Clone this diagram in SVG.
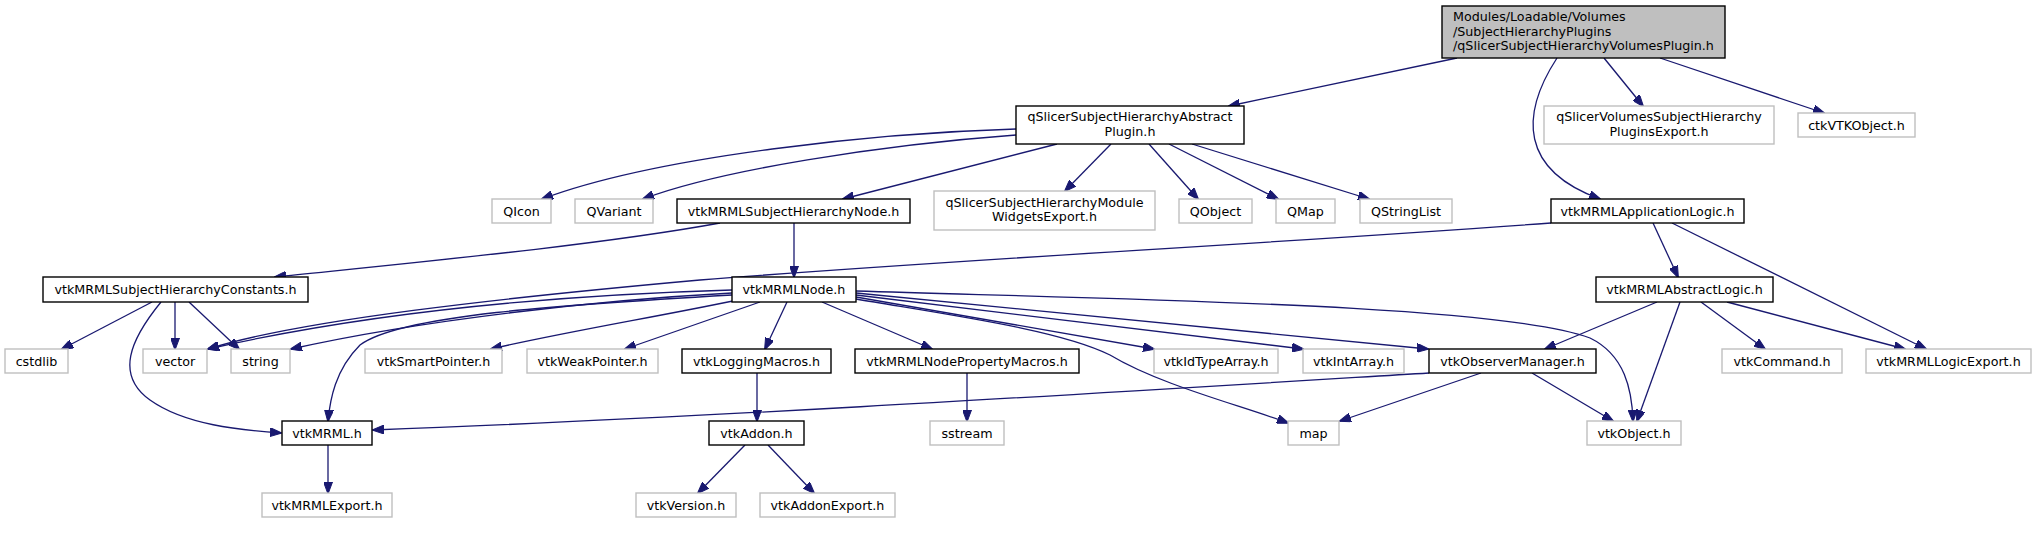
<svg xmlns="http://www.w3.org/2000/svg" width="2036" height="544" viewBox="0 0 2036 544">
<style>
rect.doc{fill:#ffffff;stroke:#000000;stroke-width:1.4}
rect.und{fill:#ffffff;stroke:#bfbfbf;stroke-width:1.4}
rect.main{fill:#bfbfbf;stroke:#000000;stroke-width:1.4}
text{font-family:"DejaVu Sans","Liberation Sans",sans-serif;font-size:12.7px;fill:#000000;text-anchor:middle}
text.left{text-anchor:start}
#edges path{fill:none;stroke:#191970;stroke-width:1.3;marker-end:url(#arr)}
</style>
<defs>
<marker id="arr" viewBox="0 0 12 9" refX="11" refY="4.5" markerWidth="12" markerHeight="9" markerUnits="userSpaceOnUse" orient="auto">
<path d="M0,0 L12,4.5 L0,9 z" fill="#191970" stroke="#191970" stroke-width="1"/>
</marker>
</defs>
<rect width="2036" height="544" fill="#ffffff"/>
<g id="edges">
<path d="M1457,58 L1229,106"/>
<path d="M1557,58 C1520,115 1520,170 1600,199"/>
<path d="M1604,58 L1643,106"/>
<path d="M1660,58 L1824,113"/>
<path d="M1016,129 C880,133 660,155 542,199"/>
<path d="M1016,135 C880,145 720,170 643,199"/>
<path d="M1057,144 L843,199"/>
<path d="M1111,144 L1065,191"/>
<path d="M1149,144 L1198,199"/>
<path d="M1169,144 L1278,199"/>
<path d="M1192,144 L1369,199"/>
<path d="M720,223 C600,245 420,262 275,277"/>
<path d="M794,223 L794,277"/>
<path d="M1551,223 C1250,245 950,260 700,280 C500,298 300,320 208,349"/>
<path d="M1653,223 L1678,277"/>
<path d="M1672,223 L1926,349"/>
<path d="M152,302 L62,349"/>
<path d="M161,302 C130,340 115,375 150,400 C185,425 240,430 281,433"/>
<path d="M175,302 L175,349"/>
<path d="M189,302 L239,349"/>
<path d="M732,290 C560,295 380,310 208,349"/>
<path d="M732,293 C600,300 420,320 291,349"/>
<path d="M732,295 C560,305 400,315 360,345 C335,370 330,400 328,421"/>
<path d="M733,301 C650,318 560,333 491,349"/>
<path d="M760,302 L625,349"/>
<path d="M787,302 L765,349"/>
<path d="M822,302 L932,349"/>
<path d="M856,297 L1154,349"/>
<path d="M856,295 L1303,349"/>
<path d="M856,293 L1428,349"/>
<path d="M856,291 C1150,300 1500,305 1590,338 C1625,355 1632,390 1633,421"/>
<path d="M856,299 C950,315 1060,330 1110,355 C1160,385 1240,405 1288,423"/>
<path d="M757,373 L757,421"/>
<path d="M967,373 L967,421"/>
<path d="M1429,373 C1100,393 700,418 373,430"/>
<path d="M1481,373 L1340,421"/>
<path d="M1532,373 L1613,421"/>
<path d="M1657,302 L1545,349"/>
<path d="M1680,302 L1637,421"/>
<path d="M1701,302 L1765,349"/>
<path d="M1727,302 L1905,349"/>
<path d="M328,445 L328,493"/>
<path d="M745,445 L698,493"/>
<path d="M768,445 L814,493"/>
</g>
<g id="n_main"><rect class="main" x="1442" y="6" width="283" height="52"/><text class="left" x="1453" y="21">Modules/Loadable/Volumes</text><text class="left" x="1453" y="35.5">/SubjectHierarchyPlugins</text><text class="left" x="1453" y="50">/qSlicerSubjectHierarchyVolumesPlugin.h</text></g>
<g id="n_abstract"><rect class="doc" x="1016" y="106" width="228" height="38"/><text x="1130" y="121">qSlicerSubjectHierarchyAbstract</text><text x="1130" y="135.5">Plugin.h</text></g>
<g id="n_volexport"><rect class="und" x="1544" y="106" width="230" height="38"/><text x="1659" y="121">qSlicerVolumesSubjectHierarchy</text><text x="1659" y="135.5">PluginsExport.h</text></g>
<g id="n_ctkvtkobject"><rect class="und" x="1798" y="113" width="117" height="24"/><text x="1856.5" y="129.5">ctkVTKObject.h</text></g>
<g id="n_qicon"><rect class="und" x="492" y="199" width="59" height="24"/><text x="521.5" y="215.5">QIcon</text></g>
<g id="n_qvariant"><rect class="und" x="575" y="199" width="78" height="24"/><text x="614" y="215.5">QVariant</text></g>
<g id="n_shnode"><rect class="doc" x="677" y="199" width="233" height="24"/><text x="793.5" y="215.5">vtkMRMLSubjectHierarchyNode.h</text></g>
<g id="n_modwidgets"><rect class="und" x="934" y="191" width="221" height="39"/><text x="1044.5" y="206.5">qSlicerSubjectHierarchyModule</text><text x="1044.5" y="221">WidgetsExport.h</text></g>
<g id="n_qobject"><rect class="und" x="1179" y="199" width="73" height="24"/><text x="1215.5" y="215.5">QObject</text></g>
<g id="n_qmap"><rect class="und" x="1276" y="199" width="59" height="24"/><text x="1305.5" y="215.5">QMap</text></g>
<g id="n_qstringlist"><rect class="und" x="1360" y="199" width="92" height="24"/><text x="1406" y="215.5">QStringList</text></g>
<g id="n_applogic"><rect class="doc" x="1551" y="199" width="193" height="24"/><text x="1647.5" y="215.5">vtkMRMLApplicationLogic.h</text></g>
<g id="n_constants"><rect class="doc" x="43" y="277" width="265" height="25"/><text x="175.5" y="294">vtkMRMLSubjectHierarchyConstants.h</text></g>
<g id="n_mrmlnode"><rect class="doc" x="732" y="277" width="124" height="25"/><text x="794" y="294">vtkMRMLNode.h</text></g>
<g id="n_abstractlogic"><rect class="doc" x="1596" y="277" width="177" height="25"/><text x="1684.5" y="294">vtkMRMLAbstractLogic.h</text></g>
<g id="n_cstdlib"><rect class="und" x="5" y="349" width="63" height="24"/><text x="36.5" y="365.5">cstdlib</text></g>
<g id="n_vector"><rect class="und" x="143" y="349" width="64" height="24"/><text x="175" y="365.5">vector</text></g>
<g id="n_string"><rect class="und" x="231" y="349" width="59" height="24"/><text x="260.5" y="365.5">string</text></g>
<g id="n_smartptr"><rect class="und" x="365" y="349" width="137" height="24"/><text x="433.5" y="365.5">vtkSmartPointer.h</text></g>
<g id="n_weakptr"><rect class="und" x="527" y="349" width="131" height="24"/><text x="592.5" y="365.5">vtkWeakPointer.h</text></g>
<g id="n_logging"><rect class="doc" x="682" y="349" width="149" height="24"/><text x="756.5" y="365.5">vtkLoggingMacros.h</text></g>
<g id="n_propmacros"><rect class="doc" x="855" y="349" width="224" height="24"/><text x="967" y="365.5">vtkMRMLNodePropertyMacros.h</text></g>
<g id="n_idtypearray"><rect class="und" x="1154" y="349" width="124" height="24"/><text x="1216" y="365.5">vtkIdTypeArray.h</text></g>
<g id="n_intarray"><rect class="und" x="1303" y="349" width="101" height="24"/><text x="1353.5" y="365.5">vtkIntArray.h</text></g>
<g id="n_observer"><rect class="doc" x="1429" y="349" width="167" height="24"/><text x="1512.5" y="365.5">vtkObserverManager.h</text></g>
<g id="n_command"><rect class="und" x="1722" y="349" width="120" height="24"/><text x="1782" y="365.5">vtkCommand.h</text></g>
<g id="n_logicexport"><rect class="und" x="1866" y="349" width="165" height="24"/><text x="1948.5" y="365.5">vtkMRMLLogicExport.h</text></g>
<g id="n_vtkmrml"><rect class="doc" x="282" y="421" width="90" height="24"/><text x="327" y="437.5">vtkMRML.h</text></g>
<g id="n_addon"><rect class="doc" x="709" y="421" width="95" height="24"/><text x="756.5" y="437.5">vtkAddon.h</text></g>
<g id="n_sstream"><rect class="und" x="930" y="421" width="74" height="24"/><text x="967" y="437.5">sstream</text></g>
<g id="n_map"><rect class="und" x="1288" y="421" width="51" height="24"/><text x="1313.5" y="437.5">map</text></g>
<g id="n_vtkobject"><rect class="und" x="1587" y="421" width="94" height="24"/><text x="1634" y="437.5">vtkObject.h</text></g>
<g id="n_mrmlexport"><rect class="und" x="262" y="493" width="130" height="24"/><text x="327" y="509.5">vtkMRMLExport.h</text></g>
<g id="n_version"><rect class="und" x="636" y="493" width="100" height="24"/><text x="686" y="509.5">vtkVersion.h</text></g>
<g id="n_addonexport"><rect class="und" x="760" y="493" width="135" height="24"/><text x="827.5" y="509.5">vtkAddonExport.h</text></g>
</svg>
